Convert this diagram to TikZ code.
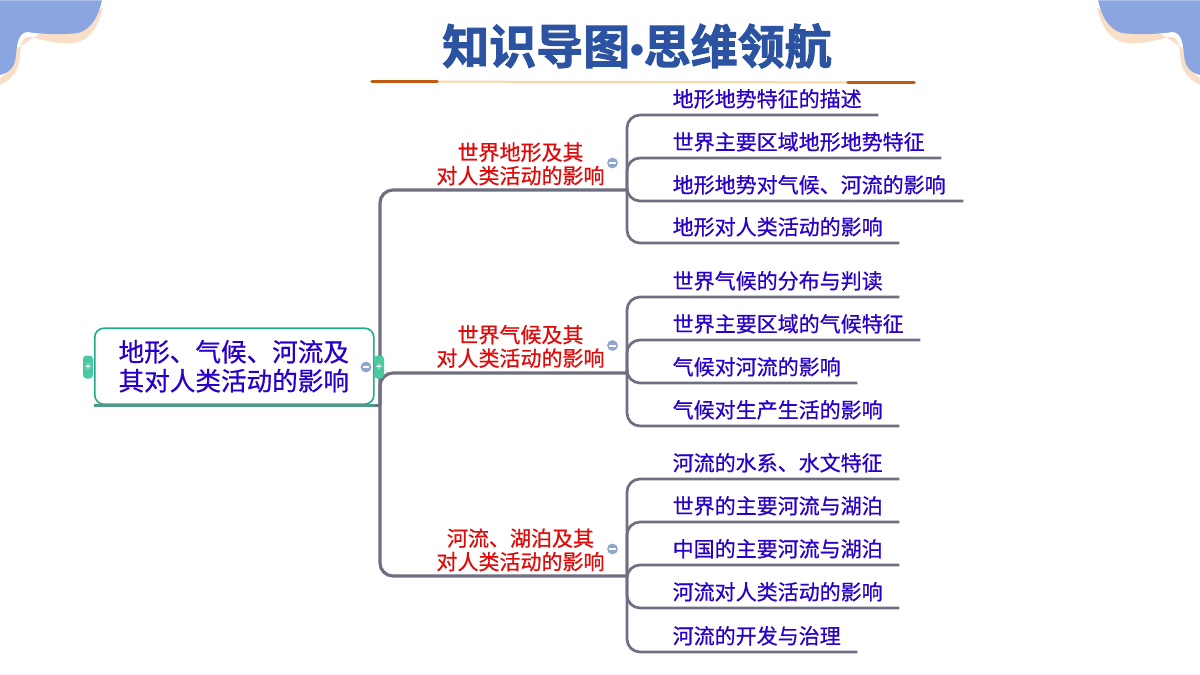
\documentclass[tikz,border=0pt]{standalone}
\usepackage{fontspec}
\setmainfont{Noto Sans CJK SC}
\newfontfamily\titlefont[FakeBold=2]{Noto Sans CJK SC Bold}
\newfontfamily\bulletfont{Liberation Sans Bold}
\newfontfamily\heavyfont[FakeBold=0.7]{Noto Sans CJK SC}
\definecolor{leafblue}{HTML}{2A00C8}
\definecolor{midred}{HTML}{DF0A0A}
\definecolor{linegrey}{HTML}{6E6F80}
\definecolor{rootgreen}{HTML}{1FAE88}
\definecolor{rootbase}{HTML}{4F9A85}
\definecolor{tabgreen}{HTML}{4CC9A0}
\definecolor{minusblue}{HTML}{8FA6CC}
\definecolor{cornerblue}{HTML}{8AA5E0}
\definecolor{cornerpeach}{HTML}{FADFC8}
\definecolor{titleblue}{HTML}{2B53A2}
\definecolor{rulepeach}{HTML}{F6D6A4}
\definecolor{rulebrown}{HTML}{C25A12}
\tikzset{
  leaf/.style={anchor=south west,inner xsep=0pt,inner ysep=0pt,text height=16pt,text depth=8pt,
    font=\heavyfont\fontsize{21}{22}\selectfont,text=leafblue,align=left},
  mid/.style={anchor=south,inner sep=0pt,align=center,text=midred,
    font=\heavyfont\fontsize{21}{23.5}\selectfont},
  conn/.style={draw=linegrey,line width=2.7pt,rounded corners=13pt},
  trunk/.style={draw=linegrey,line width=3.2pt,rounded corners=13pt},
  minus/.pic={\fill[minusblue] (0,0) circle (5.4pt);\fill[white] (-3.4,-1) rectangle (3.4,1);},
  tab/.style={fill=tabgreen,rounded corners=3.5pt,minimum width=10pt,minimum height=23pt,inner sep=0pt,
    text=white,font=\heavyfont\fontsize{11}{11}\selectfont},
  corner/.pic={
    \fill[cornerpeach] (103,8) .. controls (99,24) and (92,38) .. (78,42)
      .. controls (60,46) and (45,40) .. (30,37) .. controls (22,36) and (21,44) .. (20,55)
      .. controls (19,68) and (15,78) .. (0,85) -- (0,60) -- (60,20) -- cycle;
    \fill[white] (17,34) .. controls (15,50) and (17,65) .. (0,78) -- (0,70) -- (14,60) -- cycle;
    \fill[cornerblue] (0,0) -- (102,0) .. controls (99,15) and (92,29) .. (78,33)
      .. controls (62,35) and (40,34) .. (27,32) .. controls (19,33) and (17,42) .. (16,55)
      .. controls (15,66) and (11,72) .. (0,75) -- cycle;
    \fill[cornerblue!70!white] (0,0) rectangle (102,1);
  },
}
\begin{document}
\begin{tikzpicture}[x=1pt,y=-1pt]
\useasboundingbox (0,0) rectangle (1200,675);
\pic at (0,0) {corner};
\pic[xscale=-1] at (1200,0) {corner};

\node[text=titleblue,inner sep=0pt,font=\titlefont\fontsize{47}{47}\selectfont] (title) at (637,46) {知识导图{\bulletfont\fontsize{40}{40}\selectfont •}\hspace{-.5pt}思维领航};
\coordinate (ruleL) at (372,81.5);
\coordinate (ruleR) at (914,82.5);
\coordinate (ruleLe) at (437,81.5);
\coordinate (ruleRs) at (848,82.5);
\draw[rulepeach,line width=2pt] (ruleL) -- (ruleR);
\draw[rulebrown,line width=3.6pt,line cap=round] (ruleL) -- (ruleLe);
\draw[rulebrown,line width=3.6pt,line cap=round] (ruleRs) -- (ruleR);

% root
\node[draw=rootgreen,line width=1.6pt,fill=white,rounded corners=9pt,minimum width=279pt,minimum height=76pt,
  inner sep=0pt,align=center,text=leafblue,font=\heavyfont\fontsize{25.6}{29}\selectfont,anchor=south west] (root) at (94,405)
  {\hspace{-1pt}地形、气候、河流及\\\hspace{-1pt}其对人类活动的影响};
\coordinate (rootend) at (380,405);
\draw[rootbase,line width=3pt] (root.south west) -- (root.south east);
\draw[linegrey,line width=3pt] (root.south east) -- (rootend);

% mid nodes
\node[mid] (m1) at (520.5,185.5) {世界地形及其\\对人类活动的影响};
\node[mid] (m2) at (520.5,368) {世界气候及其\\对人类活动的影响};
\node[mid] (m3) at (520.5,571.5) {河流、湖泊及其\\对人类活动的影响};
\coordinate (j1) at (627,190);
\coordinate (j2) at (627,373);
\coordinate (j3) at (627,576);
\draw[trunk] (rootend) |- (j1);
\draw[trunk] (rootend) |- (j2);
\draw[trunk] (rootend) |- (j3);

\node[tab] (tabL) at (88,367) {+};
\node[tab] (tabR) at (379,367) {+};

% leaves
\newcommand{\lf}[4]{\node[leaf,text width=#3pt-672.5pt] (#1) at (672.5,#2) {#4};}
\lf{a1}{115}{878}{地形地势特征的描述}
\lf{a2}{158}{941}{世界主要区域地形地势特征}
\lf{a3}{201}{963}{地形地势对气候、河流的影响}
\lf{a4}{243}{899}{地形对人类活动的影响}
\lf{b1}{297}{899}{世界气候的分布与判读}
\lf{b2}{340}{920}{世界主要区域的气候特征}
\lf{b3}{383}{857}{气候对河流的影响}
\lf{b4}{426}{899}{气候对生产生活的影响}
\lf{c1}{479}{899}{河流的水系、水文特征}
\lf{c2}{522}{899}{世界的主要河流与湖泊}
\lf{c3}{565}{899}{中国的主要河流与湖泊}
\lf{c4}{608}{899}{河流对人类活动的影响}
\lf{c5}{652}{857}{河流的开发与治理}
\foreach \j/\l in {j1/a1,j1/a2,j1/a3,j1/a4,j2/b1,j2/b2,j2/b3,j2/b4,j3/c1,j3/c2,j3/c3,j3/c4,j3/c5}{
  \draw[conn] (\j) |- (\l.south west) -- (\l.south east);
}

\pic at (366,367) {minus};
\pic at (612.5,163) {minus};
\pic at (612.5,345.5) {minus};
\pic at (612.5,549) {minus};
\end{tikzpicture}
\end{document}
